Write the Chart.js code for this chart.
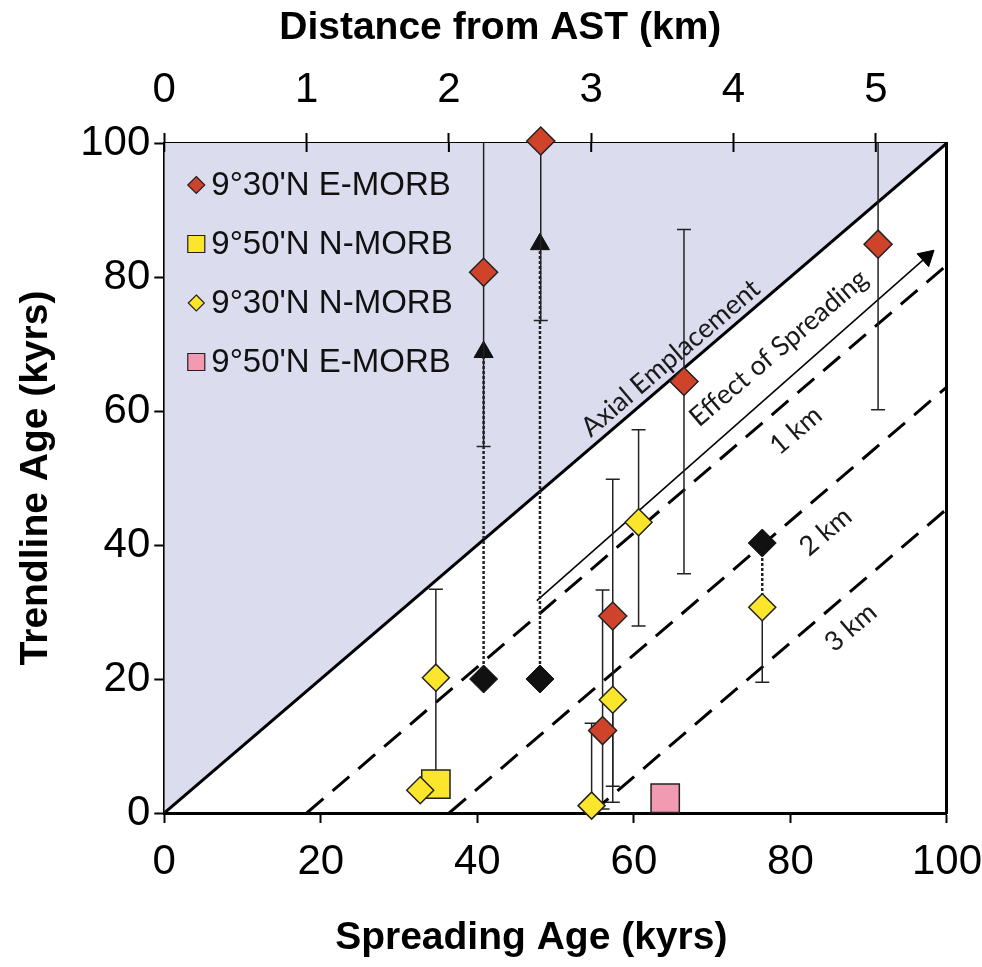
<!DOCTYPE html>
<html>
<head>
<meta charset="utf-8">
<title>Trendline Age vs Spreading Age</title>
<script src="https://cdn.jsdelivr.net/npm/chart.js@4.4.0/dist/chart.umd.min.js"></script>
<style>
    body { margin: 0; background: #fff; }
    #wrap { width: 982px; height: 967px; }
</style>
</head>
<body>
<div id="wrap"><canvas id="agechart" width="982" height="967"></canvas></div>
<script>
// tick labels
var xTicks = [0, 20, 40, 60, 80, 100];
var yTicks = [0, 20, 40, 60, 80, 100];
var kmTicks = [0, 1, 2, 3, 4, 5];

// 9°30'N E-MORB (red diamonds) with error bar ends
var emorb30X  = [40.8, 48.1, 66.4, 91.2, 57.3, 56.0];
var emorb30Y  = [80.7, 100.3, 64.4, 84.9, 29.4, 12.3];
var emorb30Lo = [54.7, 73.5, 35.7, 60.2, 1.6, 0.6];
var emorb30Hi = [110, 110, 87.1, 110, 49.8, 33.3];

// 9°30'N N-MORB (yellow diamonds)
var nmorb30X  = [34.7, 32.7, 60.6, 57.3, 54.6, 76.4];
var nmorb30Y  = [20.2, 3.4, 43.4, 16.9, 1.1, 30.7];
var nmorb30Lo = [3.5, null, 27.9, 4.0, -3, 19.5];
var nmorb30Hi = [33.4, null, 57.2, 30.0, 13.4, 30.7];

// 9°50'N N-MORB and E-MORB (squares)
var nmorb50X = [34.7];
var nmorb50Y = [4.3];
var emorb50X = [64.0];
var emorb50Y = [2.2];

// black diamonds, dotted line to where the sample plots
var shiftX  = [40.8, 48.0, 76.4];
var shiftY  = [20.0, 20.0, 40.3];
var shiftTo = [68.8, 84.9, 30.7];
var shiftArrow = [true, true, false];

// distance lines: start on the x axis, end on the right edge
var kmLabels = ['1 km', '2 km', '3 km'];
var kmStartX = [18.2, 36.4, 54.6];
var kmEndY   = [81.8, 63.6, 45.4];
var kmLabelX = [80.7, 84.5, 87.7];
var kmLabelY = [57.1, 42.0, 27.7];

// "effect of spreading" arrow
var spreadFrom = [47.6, 31.7];
var spreadTo   = [97.4, 83.0];

var red = '#d0432b';
var yellow = '#fbe62c';
var pink = '#f29ab2';
var lavender = '#dcdcef';
var edge = '#222';

var sans = "'Liberation Sans', Arial, sans-serif";
// tall line boxes stand in for tick padding (padding also widens the side margins)
var bottomTickFont = { family: sans, size: 42, lineHeight: 78 / 42 };
var topTickFont = { family: sans, size: 42, lineHeight: 86 / 42 };
var leftTickFont = { family: sans, size: 42, lineHeight: 1 };
var titleFont = { family: sans, size: 39, weight: 'bold', lineHeight: 0.8 };

function pts(xs, ys) {
    return xs.map(function (x, i) { return { x: x, y: ys[i] }; });
}

function errorSegments(xs, lo, hi) {
    var out = [];
    xs.forEach(function (x, i) {
        if (lo[i] === null) return;
        out.push({ x: x, y: lo[i] });
        out.push({ x: x, y: hi[i] });
        out.push({ x: x, y: null });
    });
    return out;
}

function fixedTicks(list) {
    return function (scale) {
        scale.ticks = list.map(function (v) { return { value: v }; });
    };
}

var datasets = [];

// shaded area above the 1:1 line (axial emplacement)
datasets.push({
    label: 'axial', data: [{ x: 0, y: 0 }, { x: 100, y: 100 }],
    borderColor: '#000', borderWidth: 3, backgroundColor: lavender,
    fill: 'end', pointRadius: 0, order: 20
});

kmLabels.forEach(function (lab, i) {
    datasets.push({
        label: lab, data: [{ x: kmStartX[i], y: 0 }, { x: 100, y: kmEndY[i] }],
        borderColor: '#000', borderWidth: 3, borderDash: [22, 12],
        pointRadius: 0, fill: false, order: 19
    });
});

datasets.push({
    label: 'spreading', data: [{ x: spreadFrom[0], y: spreadFrom[1] }, { x: spreadTo[0], y: spreadTo[1] }],
    borderColor: '#000', borderWidth: 1.5, fill: false,
    pointRadius: [0, 10], pointStyle: 'triangle', pointRotation: 48,
    pointBackgroundColor: '#000', pointBorderColor: '#000', pointBorderWidth: 1,
    clip: false, order: 18
});

shiftX.forEach(function (x, i) {
    datasets.push({
        label: 'shift', data: [{ x: x, y: shiftY[i] }, { x: x, y: shiftTo[i] }],
        borderColor: edge, borderWidth: 2.5, borderDash: [3, 2], fill: false,
        pointRadius: [0, shiftArrow[i] ? 11 : 0], pointStyle: 'triangle',
        pointBackgroundColor: '#111', pointBorderColor: '#111', pointBorderWidth: 1,
        order: 17
    });
});

datasets.push({
    label: 'err1', data: errorSegments(emorb30X, emorb30Lo, emorb30Hi),
    borderColor: edge, borderWidth: 1.5, fill: false, spanGaps: false,
    pointStyle: 'line', pointRadius: 7, pointBorderColor: edge, pointBorderWidth: 1.5,
    order: 16
});
datasets.push({
    label: 'err2', data: errorSegments(nmorb30X, nmorb30Lo, nmorb30Hi),
    borderColor: edge, borderWidth: 1.5, fill: false, spanGaps: false,
    pointStyle: 'line', pointRadius: 7, pointBorderColor: edge, pointBorderWidth: 1.5,
    order: 16
});

datasets.push({
    label: "9°50'N N-MORB", data: pts(nmorb50X, nmorb50Y), showLine: false,
    pointStyle: 'rect', pointRadius: 20, pointBackgroundColor: yellow,
    pointBorderColor: edge, pointBorderWidth: 1.5, clip: false, order: 5,
    legendShape: 'square', legendSize: 8.5
});
datasets.push({
    label: "9°50'N E-MORB", data: pts(emorb50X, emorb50Y), showLine: false,
    pointStyle: 'rect', pointRadius: 20, pointBackgroundColor: pink,
    pointBorderColor: edge, pointBorderWidth: 1.5, clip: false, order: 5,
    legendShape: 'square', legendSize: 8.5
});
datasets.push({
    label: 'black', data: pts(shiftX, shiftY), showLine: false,
    pointStyle: 'rectRot', pointRadius: 14, pointBackgroundColor: '#111',
    pointBorderColor: '#111', pointBorderWidth: 1, clip: false, order: 3
});
datasets.push({
    label: "9°30'N N-MORB", data: pts(nmorb30X, nmorb30Y), showLine: false,
    pointStyle: 'rectRot', pointRadius: 13.5, pointBackgroundColor: yellow,
    pointBorderColor: edge, pointBorderWidth: 1.5, clip: false, order: 2,
    legendShape: 'diamond', legendSize: 8
});
datasets.push({
    label: "9°30'N E-MORB", data: pts(emorb30X, emorb30Y), showLine: false,
    pointStyle: 'rectRot', pointRadius: 14, pointBackgroundColor: red,
    pointBorderColor: edge, pointBorderWidth: 1.5, clip: false, order: 1,
    legendShape: 'diamond', legendSize: 8.5
});

var legendOrder = ["9°30'N E-MORB", "9°50'N N-MORB", "9°30'N N-MORB", "9°50'N E-MORB"];

// legend inside the shaded corner
var boxLegend = {
    id: 'boxLegend',
    afterDatasetsDraw: function (chart) {
        var ctx = chart.ctx, area = chart.chartArea;
        ctx.save();
        ctx.font = '33px ' + sans;
        ctx.textBaseline = 'middle';
        ctx.textAlign = 'left';
        legendOrder.forEach(function (name, row) {
            var ds = chart.data.datasets.find(function (d) { return d.label === name; });
            var cx = area.left + 32, cy = area.top + 42 + row * 59;
            var s = ds.legendSize;
            ctx.beginPath();
            if (ds.legendShape === 'diamond') {
                ctx.moveTo(cx, cy - s); ctx.lineTo(cx + s, cy);
                ctx.lineTo(cx, cy + s); ctx.lineTo(cx - s, cy);
                ctx.closePath();
            } else {
                ctx.rect(cx - s, cy - s, 2 * s, 2 * s);
            }
            ctx.fillStyle = ds.pointBackgroundColor;
            ctx.fill();
            ctx.lineWidth = 1.2;
            ctx.strokeStyle = edge;
            ctx.stroke();
            ctx.fillStyle = '#111';
            ctx.fillText(name, area.left + 47, cy + 1);
        });
        ctx.restore();
    }
};

// slanted notes along the lines
var slantNotes = {
    id: 'slantNotes',
    afterDatasetsDraw: function (chart) {
        var ctx = chart.ctx, xs = chart.scales.x, ys = chart.scales.y;
        var ang = Math.atan2(ys.getPixelForValue(100) - ys.getPixelForValue(0),
                             xs.getPixelForValue(100) - xs.getPixelForValue(0));
        var notes = [
            { t: 'Axial Emplacement', x: 64.7, y: 67.9 },
            { t: 'Effect of Spreading', x: 78.5, y: 69.4 }
        ];
        kmLabels.forEach(function (lab, i) {
            notes.push({ t: lab, x: kmLabelX[i], y: kmLabelY[i] });
        });
        ctx.save();
        ctx.font = '27px Lato, "Open Sans", sans-serif';
        ctx.fillStyle = '#1a1a1a';
        ctx.textAlign = 'center';
        ctx.textBaseline = 'middle';
        notes.forEach(function (n) {
            ctx.save();
            ctx.translate(xs.getPixelForValue(n.x), ys.getPixelForValue(n.y));
            ctx.rotate(ang);
            ctx.fillText(n.t, 0, 0);
            ctx.restore();
        });
        ctx.restore();
    }
};

// top/bottom axis titles (sit a bit left of centre in the original)
var sideTitles = {
    id: 'sideTitles',
    afterDraw: function (chart) {
        var ctx = chart.ctx, area = chart.chartArea;
        ctx.save();
        ctx.font = 'bold 39px ' + sans;
        ctx.fillStyle = '#000';
        ctx.textAlign = 'center';
        ctx.textBaseline = 'middle';
        ctx.fillText('Distance from AST (km)', area.left + 336, area.top - 115);
        ctx.fillText('Spreading Age (kyrs)', area.left + 367, area.bottom + 125);
        // top ticks also poke into the plot
        var top = chart.scales.x2;
        ctx.strokeStyle = '#000';
        ctx.lineWidth = 2;
        top.ticks.forEach(function (t) {
            var px = top.getPixelForValue(t.value);
            ctx.beginPath();
            ctx.moveTo(px, area.top);
            ctx.lineTo(px, area.top + 9);
            ctx.stroke();
        });
        ctx.restore();
    }
};

var axisGrid = { drawOnChartArea: false, drawTicks: true, tickLength: 10, tickColor: '#000', tickWidth: 2 };
var axisBorder = { display: true, color: '#000', width: 3 };

new Chart(document.getElementById('agechart'), {
    type: 'line',
    data: { datasets: datasets },
    options: {
        responsive: false,
        animation: false,
        events: [],
        layout: { padding: { top: 47, bottom: 66, left: 0, right: 0 } },
        plugins: {
            legend: { display: false },
            tooltip: { enabled: false }
        },
        scales: {
            x: {
                type: 'linear', position: 'bottom', min: 0, max: 100,
                afterBuildTicks: fixedTicks(xTicks),
                ticks: { font: bottomTickFont, color: '#000', padding: 0, maxRotation: 0 },
                grid: axisGrid, border: axisBorder
            },
            x2: {
                type: 'linear', axis: 'x', position: 'top', min: 0, max: 5.5,
                afterBuildTicks: fixedTicks(kmTicks),
                ticks: { font: topTickFont, color: '#000', padding: 0, maxRotation: 0 },
                grid: axisGrid, border: axisBorder
            },
            y: {
                type: 'linear', position: 'left', min: 0, max: 100,
                afterBuildTicks: fixedTicks(yTicks),
                ticks: { font: leftTickFont, color: '#000', padding: 4 },
                grid: axisGrid, border: axisBorder,
                title: { display: true, text: 'Trendline Age (kyrs)', font: titleFont, color: '#000',
                         padding: { top: 21, bottom: 24 } }
            },
            y2: {
                type: 'linear', axis: 'y', position: 'right', min: 0, max: 100,
                ticks: { display: false },
                grid: { drawOnChartArea: false, drawTicks: false },
                border: axisBorder
            }
        }
    },
    plugins: [boxLegend, slantNotes, sideTitles]
});
</script>
</body>
</html>
